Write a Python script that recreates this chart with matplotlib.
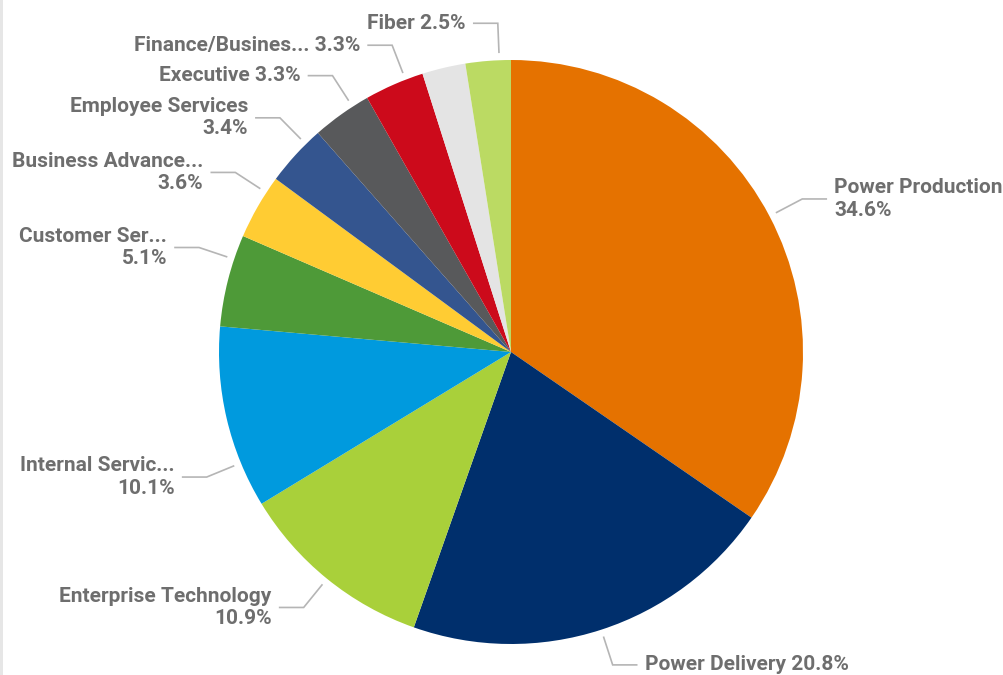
import numpy as np
import matplotlib
matplotlib.use("Agg")
import matplotlib.pyplot as plt
from matplotlib.patches import Rectangle

# budget share by department, clockwise from 12 o'clock
departments = ["Power Production", "Power Delivery", "Enterprise Technology",
               "Internal Servic...", "Customer Ser...", "Business Advance...",
               "Employee Services", "Executive", "Finance/Busines...", "",
               "Fiber"]
shares = [34.6, 20.8, 10.9, 10.1, 5.1, 3.6, 3.4, 3.3, 3.3, 2.4, 2.5]
colors = ["#E57200", "#002F6C", "#A9D03A", "#009ADE", "#4E9A38", "#FFCC33",
          "#34558F", "#58595B", "#CC0A1B", "#E4E4E4", "#BBDA63"]

# label text layout: two-line labels wrap the percent onto its own line
two_line = [True, False, True, True, True, True, True, False, False, False, False]
# small angular shifts (deg) of leader anchors so crowded labels don't collide
nudge = [0, 0, 0, 9.2, -4.3, -3.2, -2.9, -2.6, -2.4, 0, -2.2]

W, H = 1004, 675
cx, cy, R = 511, H - 352, 292

fig = plt.figure(figsize=(W / 100, H / 100), dpi=100)
ax = fig.add_axes([0, 0, 1, 1])
ax.set_xlim(0, W)
ax.set_ylim(0, H)
ax.set_aspect("equal")
ax.axis("off")

# thin grey frame strip on the left edge
ax.add_patch(Rectangle((0, 0), 3, H, color="#E6E6E6", lw=0))

wedges, _ = ax.pie(shares, colors=colors, startangle=90, counterclock=False,
                   center=(cx, cy), radius=R, wedgeprops=dict(linewidth=0))
ax.set_xlim(0, W)
ax.set_ylim(0, H)

text_kw = dict(family=["Roboto", "DejaVu Sans"], weight="bold", fontsize=15,
               color="#6E6E6E", va="center", linespacing=1.22)

for w, name, val, wrap, dn in zip(wedges, departments, shares, two_line, nudge):
    if not name:
        continue
    ang = np.deg2rad((w.theta1 + w.theta2) / 2 + dn)
    c, s = np.cos(ang), np.sin(ang)
    x0, y0 = cx + 300 * c, cy + 300 * s
    x1, y1 = cx + 329 * c, cy + 329 * s
    side = 1 if c > 0 else -1
    x2 = x1 + side * 24
    ax.plot([x0, x1, x2], [y0, y1, y1], color="#B5B5B5", lw=1.2,
            solid_joinstyle="miter")
    label = f"{name}\n{val:.1f}%" if wrap else f"{name} {val:.1f}%"
    ha = "left" if side > 0 else "right"
    ax.text(x2 + side * 8, y1, label, ha=ha, multialignment=ha, **text_kw)

fig.savefig("out.png", dpi=100, facecolor="white")
